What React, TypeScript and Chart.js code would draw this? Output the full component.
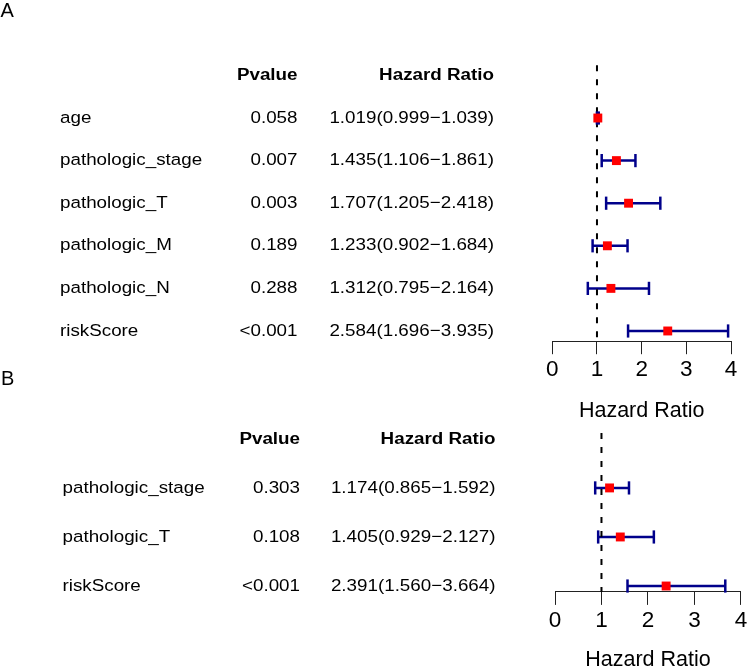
import React, { useEffect, useRef } from "react";
import { Chart, registerables } from "chart.js";

Chart.register(...registerables);

const FONT = '"Liberation Sans", Arial, Helvetica, sans-serif';

// ---------- Data: panel A (univariate) ----------
const A_NAMES = ["age", "pathologic_stage", "pathologic_T", "pathologic_M", "pathologic_N", "riskScore"];
const A_PVALUES = ["0.058", "0.007", "0.003", "0.189", "0.288", "<0.001"];
const A_HR = [1.019, 1.435, 1.707, 1.233, 1.312, 2.584];
const A_LOW = [0.999, 1.106, 1.205, 0.902, 0.795, 1.696];
const A_HIGH = [1.039, 1.861, 2.418, 1.684, 2.164, 3.935];

// ---------- Data: panel B (multivariate) ----------
const B_NAMES = ["pathologic_stage", "pathologic_T", "riskScore"];
const B_PVALUES = ["0.303", "0.108", "<0.001"];
const B_HR = [1.174, 1.405, 2.391];
const B_LOW = [0.865, 0.929, 1.56];
const B_HIGH = [1.592, 2.127, 3.664];

// ---------- Labels ----------
const X_TICKS = [0, 1, 2, 3, 4];
const HEADERS = ["Pvalue", "Hazard Ratio"];
const AXIS_TITLE = "Hazard Ratio";
const PANEL_LETTERS = ["A", "B"];

type PanelLayout = {
  letterX: number;
  letterY: number;
  padLeft: number;
  padRight: number;
  padTop: number;
  padBottom: number;
  axisHeight: number;
  titlePadBottom: number;
  nameX: number;
  pX: number;
  hrX: number;
};

const LAYOUT_A: PanelLayout = {
  letterX: 0.5,
  letterY: 17,
  padLeft: 552.3,
  padRight: 19,
  padTop: 65.2,
  padBottom: 669 - 341.2 - 84,
  axisHeight: 84,
  titlePadBottom: 1.6,
  nameX: 60,
  pX: 297.5,
  hrX: 494,
};

const LAYOUT_B: PanelLayout = {
  letterX: 1,
  letterY: 385,
  padLeft: 555,
  padRight: 6,
  padTop: 433,
  padBottom: 0,
  axisHeight: 669 - 433 - 158.9,
  titlePadBottom: -3.6,
  nameX: 62.5,
  pX: 300,
  hrX: 495.5,
};

const BLUE = "#00008B";
const RED = "#FF0000";
const AXIS_COLOR = "#222222";
const TEXT_SIZE = 16.8;
const TEXT_STRETCH = 1.12;

function fmt(v: number) {
  return v.toFixed(3);
}

function stretchedText(ctx: any, text: string, x: number, y: number, sx: number = TEXT_STRETCH) {
  ctx.save();
  ctx.translate(x, y);
  ctx.scale(sx, 1);
  ctx.fillText(text, 0, 0);
  ctx.restore();
}

function buildConfig(
  letter: string,
  names: string[],
  pvals: string[],
  hr: number[],
  low: number[],
  high: number[],
  L: PanelLayout
): any {
  const n = names.length;
  const rows = names.map((_, i) => n - i);
  const ext = 0.04 * n;
  const yMin = 1 - ext;
  const yMax = n + 1 + ext;

  const datasets: any[] = [
    {
      label: "HR",
      data: rows.map((r, i) => ({ x: hr[i], y: r })),
      showLine: false,
      pointStyle: "rect",
      pointRadius: 6.3,
      pointBackgroundColor: RED,
      pointBorderWidth: 0,
      clip: false,
    },
    {
      label: "caps",
      data: rows.flatMap((r, i) => [
        { x: low[i], y: r },
        { x: high[i], y: r },
      ]),
      showLine: false,
      pointStyle: "line",
      pointRotation: 90,
      pointRadius: 6.6,
      pointBorderColor: BLUE,
      pointBorderWidth: 2.5,
      clip: false,
    },
    {
      label: "ref",
      data: [
        { x: 1, y: yMax },
        { x: 1, y: yMin },
      ],
      showLine: true,
      borderColor: "#000000",
      borderWidth: 2,
      borderDash: [6, 8],
      pointRadius: 0,
      clip: false,
    },
    ...rows.map((r, i) => ({
      label: "ci" + i,
      data: [
        { x: low[i], y: r },
        { x: high[i], y: r },
      ],
      showLine: true,
      borderColor: BLUE,
      borderWidth: 2.5,
      pointRadius: 0,
      clip: false,
    })),
  ];

  const textPlugin = {
    id: "forestText" + letter,
    afterDraw(chart: any) {
      const ctx = chart.ctx;
      const ys = chart.scales.y;
      ctx.save();
      ctx.fillStyle = "#000000";
      ctx.textBaseline = "middle";
      ctx.textAlign = "right";
      ctx.font = `bold ${TEXT_SIZE}px ${FONT}`;
      const hy = ys.getPixelForValue(n + 1);
      stretchedText(ctx, HEADERS[0], L.pX, hy);
      stretchedText(ctx, HEADERS[1], L.hrX, hy);
      ctx.font = `${TEXT_SIZE}px ${FONT}`;
      rows.forEach((r, i) => {
        const py = ys.getPixelForValue(r);
        ctx.textAlign = "left";
        stretchedText(ctx, names[i], L.nameX, py);
        ctx.textAlign = "right";
        stretchedText(ctx, pvals[i], L.pX, py);
        stretchedText(ctx, `${fmt(hr[i])}(${fmt(low[i])}\u2212${fmt(high[i])})`, L.hrX, py);
      });
      ctx.textAlign = "left";
      ctx.textBaseline = "alphabetic";
      ctx.font = `20px ${FONT}`;
      stretchedText(ctx, letter, L.letterX, L.letterY, 1);
      ctx.restore();
    },
  };

  return {
    type: "scatter",
    data: { datasets },
    plugins: [textPlugin],
    options: {
      responsive: false,
      animation: false,
      devicePixelRatio: 1,
      events: [],
      layout: {
        padding: { left: L.padLeft, right: L.padRight, top: L.padTop, bottom: L.padBottom },
      },
      plugins: {
        legend: { display: false },
        tooltip: { enabled: false },
        title: { display: false },
      },
      scales: {
        x: {
          type: "linear",
          position: "bottom",
          min: X_TICKS[0],
          max: X_TICKS[X_TICKS.length - 1],
          afterBuildTicks: (scale: any) => {
            scale.ticks = X_TICKS.map((v) => ({ value: v }));
          },
          afterFit: (scale: any) => {
            scale.height = L.axisHeight;
          },
          ticks: {
            autoSkip: false,
            maxRotation: 0,
            color: "#000000",
            padding: 2,
            font: { family: FONT, size: 22.5 },
            callback: (v: any) => String(v),
          },
          grid: {
            display: true,
            drawOnChartArea: false,
            drawTicks: true,
            tickLength: 13,
            color: AXIS_COLOR,
            lineWidth: 1,
          },
          border: { display: true, color: AXIS_COLOR, width: 1 },
          title: {
            display: true,
            text: AXIS_TITLE,
            color: "#000000",
            font: { family: FONT, size: 21.5 },
            padding: { top: 0, bottom: L.titlePadBottom },
          },
        },
        y: {
          type: "linear",
          display: false,
          min: yMin,
          max: yMax,
        },
      },
    },
  };
}

function ForestPanel({ make }: { make: () => any }) {
  const ref = useRef<HTMLCanvasElement | null>(null);
  useEffect(() => {
    if (!ref.current) return;
    const chart = new Chart(ref.current, make());
    return () => chart.destroy();
  }, []);
  return (
    <canvas
      ref={ref}
      width={750}
      height={669}
      style={{ position: "absolute", left: 0, top: 0, width: 750, height: 669 }}
    />
  );
}

export default function App() {
  return (
    <div
      style={{
        position: "absolute",
        left: 0,
        top: 0,
        width: 750,
        height: 669,
        background: "#ffffff",
        overflow: "hidden",
      }}
    >
      <ForestPanel
        make={() => buildConfig(PANEL_LETTERS[0], A_NAMES, A_PVALUES, A_HR, A_LOW, A_HIGH, LAYOUT_A)}
      />
      <ForestPanel
        make={() => buildConfig(PANEL_LETTERS[1], B_NAMES, B_PVALUES, B_HR, B_LOW, B_HIGH, LAYOUT_B)}
      />
    </div>
  );
}
